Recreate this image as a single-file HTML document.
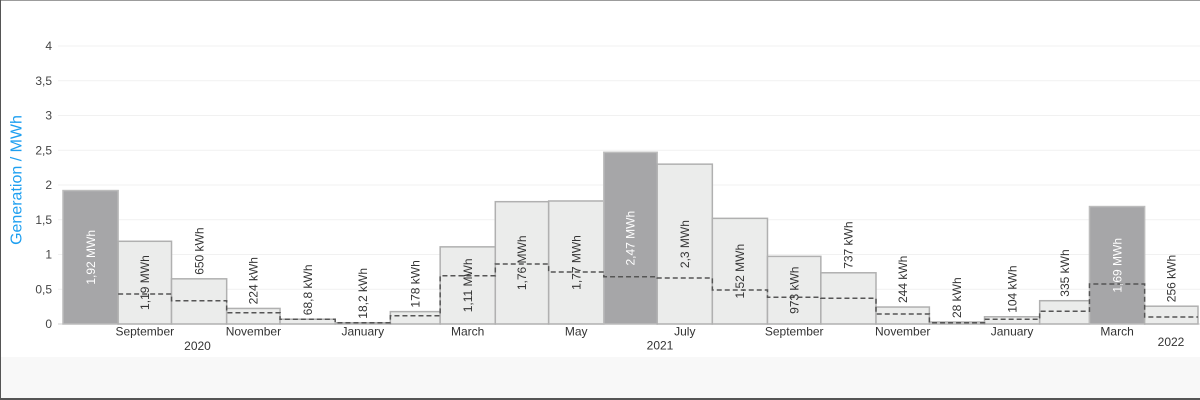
<!DOCTYPE html>
<html><head><meta charset="utf-8"><style>
html,body{margin:0;padding:0;background:#fff;}
body{width:1200px;height:400px;overflow:hidden;position:relative;font-family:"Liberation Sans",Arial,sans-serif;}
svg{position:absolute;left:0;top:0;}
</style></head><body>
<svg width="1200" height="400" viewBox="0 0 1200 400" xmlns="http://www.w3.org/2000/svg" font-family="Liberation Sans, Arial, sans-serif">
<rect x="0" y="0" width="1200" height="400" fill="#fff"/>
<rect x="0" y="357" width="1200" height="42" fill="#f8f8f8"/>
<!-- frame -->
<line x1="0" y1="0.5" x2="1200" y2="0.5" stroke="#9c9c9c" stroke-width="1"/>
<line x1="0.5" y1="0" x2="0.5" y2="400" stroke="#555" stroke-width="1"/>
<line x1="0" y1="399" x2="1200" y2="399" stroke="#555" stroke-width="2"/>
<!-- grid -->
<g stroke="#f1f1f1" stroke-width="1">
<line x1="58" y1="46" x2="1200" y2="46"/>
<line x1="58" y1="80.75" x2="1200" y2="80.75"/>
<line x1="58" y1="115.5" x2="1200" y2="115.5"/>
<line x1="58" y1="150.25" x2="1200" y2="150.25"/>
<line x1="58" y1="185" x2="1200" y2="185"/>
<line x1="58" y1="219.75" x2="1200" y2="219.75"/>
<line x1="58" y1="254.5" x2="1200" y2="254.5"/>
<line x1="58" y1="289.25" x2="1200" y2="289.25"/>
</g>
<line x1="58" y1="324" x2="1200" y2="324" stroke="#d0d0d0" stroke-width="1"/>
<!-- y ticks -->
<g font-size="12" fill="#444" text-anchor="end">
<text x="52" y="50">4</text>
<text x="52" y="84.75">3,5</text>
<text x="52" y="119.5">3</text>
<text x="52" y="154.25">2,5</text>
<text x="52" y="189">2</text>
<text x="52" y="223.75">1,5</text>
<text x="52" y="258.5">1</text>
<text x="52" y="293.25">0,5</text>
<text x="52" y="328">0</text>
</g>
<text transform="translate(21.5,180) rotate(-90)" text-anchor="middle" font-size="16" fill="#1e9ff0">Generation / MWh</text>
<!-- bars -->
<g stroke-width="1.5">
<rect x="63" y="190.56" width="55.15" height="133.44" fill="#a6a6a8" stroke="#bcbcbc"/>
<rect x="118.15" y="241.29" width="53.37" height="82.71" fill="#ebeceb" stroke="#b0b0b0"/>
<rect x="171.52" y="278.83" width="55.15" height="45.17" fill="#ebeceb" stroke="#b0b0b0"/>
<rect x="226.67" y="308.43" width="53.37" height="15.57" fill="#ebeceb" stroke="#b0b0b0"/>
<rect x="280.04" y="319.22" width="55.15" height="4.78" fill="#ebeceb" stroke="#b0b0b0"/>
<rect x="335.19" y="322.74" width="55.15" height="1.26" fill="#ebeceb" stroke="#b0b0b0"/>
<rect x="390.34" y="311.63" width="49.81" height="12.37" fill="#ebeceb" stroke="#b0b0b0"/>
<rect x="440.15" y="246.86" width="55.15" height="77.14" fill="#ebeceb" stroke="#b0b0b0"/>
<rect x="495.30" y="201.68" width="53.37" height="122.32" fill="#ebeceb" stroke="#b0b0b0"/>
<rect x="548.67" y="200.99" width="55.15" height="123.01" fill="#ebeceb" stroke="#b0b0b0"/>
<rect x="603.82" y="152.34" width="53.37" height="171.66" fill="#a6a6a8" stroke="#bcbcbc"/>
<rect x="657.19" y="164.15" width="55.15" height="159.85" fill="#ebeceb" stroke="#b0b0b0"/>
<rect x="712.34" y="218.36" width="55.14" height="105.64" fill="#ebeceb" stroke="#b0b0b0"/>
<rect x="767.48" y="256.38" width="53.37" height="67.62" fill="#ebeceb" stroke="#b0b0b0"/>
<rect x="820.85" y="272.78" width="55.15" height="51.22" fill="#ebeceb" stroke="#b0b0b0"/>
<rect x="876.00" y="307.04" width="53.37" height="16.96" fill="#ebeceb" stroke="#b0b0b0"/>
<rect x="929.37" y="322.05" width="55.15" height="1.95" fill="#ebeceb" stroke="#b0b0b0"/>
<rect x="984.52" y="316.77" width="55.15" height="7.23" fill="#ebeceb" stroke="#b0b0b0"/>
<rect x="1039.67" y="300.72" width="49.81" height="23.28" fill="#ebeceb" stroke="#b0b0b0"/>
<rect x="1089.48" y="206.55" width="55.15" height="117.45" fill="#a6a6a8" stroke="#bcbcbc"/>
<rect x="1144.63" y="306.21" width="53.37" height="17.79" fill="#ebeceb" stroke="#b0b0b0"/>
</g>
<!-- dashed step -->
<path d="M118.15,294 H171.52 V300.7 H226.67 V312.7 H280.04 V319.3 H335.19 V322.7 H390.34 V315.7 H440.15 V275.7 H495.30 V264 H548.67 V272 H603.82 V276.7 H657.19 V278 H712.34 V290 H767.48 V297.3 H820.85 V298.3 H876.00 V314 H929.37 V322.7 H984.52 V319.3 H1039.67 V311.3 H1089.48 V284 H1144.63 V317 H1198" fill="none" stroke="#555" stroke-width="1.5" stroke-dasharray="5,3"/>
<!-- value labels -->
<g font-size="12" fill="#333">
<text transform="translate(90.6,257.3) rotate(-90)" text-anchor="middle" dy="0.35em" fill="#fff">1,92 MWh</text>
<text transform="translate(144.8,282.6) rotate(-90)" text-anchor="middle" dy="0.35em">1,19 MWh</text>
<text transform="translate(199.1,274.8) rotate(-90)" text-anchor="start" dy="0.35em">650 kWh</text>
<text transform="translate(253.4,304.4) rotate(-90)" text-anchor="start" dy="0.35em">224 kWh</text>
<text transform="translate(307.6,315.2) rotate(-90)" text-anchor="start" dy="0.35em">68,8 kWh</text>
<text transform="translate(362.8,318.7) rotate(-90)" text-anchor="start" dy="0.35em">18,2 kWh</text>
<text transform="translate(415.2,307.6) rotate(-90)" text-anchor="start" dy="0.35em">178 kWh</text>
<text transform="translate(467.7,285.4) rotate(-90)" text-anchor="middle" dy="0.35em">1,11 MWh</text>
<text transform="translate(522.0,262.8) rotate(-90)" text-anchor="middle" dy="0.35em">1,76 MWh</text>
<text transform="translate(576.2,262.5) rotate(-90)" text-anchor="middle" dy="0.35em">1,77 MWh</text>
<text transform="translate(630.5,238.2) rotate(-90)" text-anchor="middle" dy="0.35em" fill="#fff">2,47 MWh</text>
<text transform="translate(684.8,244.1) rotate(-90)" text-anchor="middle" dy="0.35em">2,3 MWh</text>
<text transform="translate(739.9,271.2) rotate(-90)" text-anchor="middle" dy="0.35em">1,52 MWh</text>
<text transform="translate(794.2,290.2) rotate(-90)" text-anchor="middle" dy="0.35em">973 kWh</text>
<text transform="translate(848.4,268.8) rotate(-90)" text-anchor="start" dy="0.35em">737 kWh</text>
<text transform="translate(902.7,303.0) rotate(-90)" text-anchor="start" dy="0.35em">244 kWh</text>
<text transform="translate(957.0,318.0) rotate(-90)" text-anchor="start" dy="0.35em">28 kWh</text>
<text transform="translate(1012.1,312.8) rotate(-90)" text-anchor="start" dy="0.35em">104 kWh</text>
<text transform="translate(1064.6,296.7) rotate(-90)" text-anchor="start" dy="0.35em">335 kWh</text>
<text transform="translate(1117.1,265.3) rotate(-90)" text-anchor="middle" dy="0.35em" fill="#fff">1,69 MWh</text>
<text transform="translate(1171.3,302.2) rotate(-90)" text-anchor="start" dy="0.35em">256 kWh</text>
</g>
<!-- x labels -->
<g font-size="12" fill="#333" text-anchor="middle">
<text x="144.8" y="335.5">September</text>
<text x="253.4" y="335.5">November</text>
<text x="362.8" y="335.5">January</text>
<text x="467.7" y="335.5">March</text>
<text x="576.2" y="335.5">May</text>
<text x="684.8" y="335.5">July</text>
<text x="794.2" y="335.5">September</text>
<text x="902.7" y="335.5">November</text>
<text x="1012.1" y="335.5">January</text>
<text x="1117.1" y="335.5">March</text>
<text x="197.5" y="350">2020</text>
<text x="660" y="349.5">2021</text>
<text x="1171" y="346">2022</text>
</g>
</svg>
</body></html>
